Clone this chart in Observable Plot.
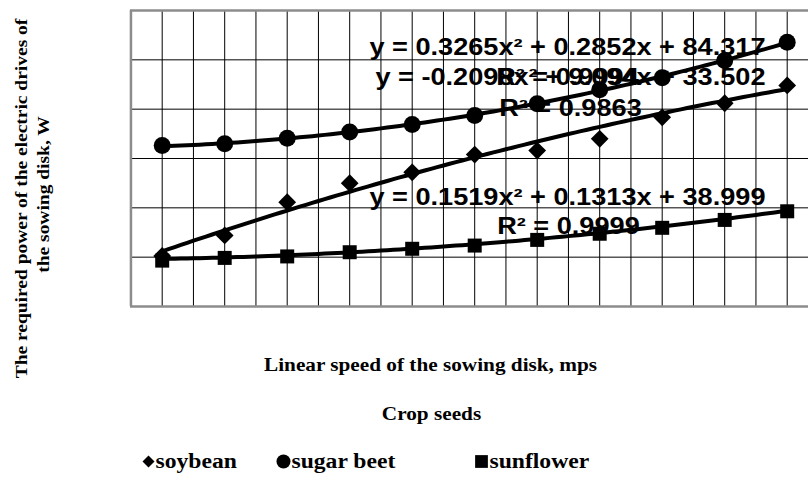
<!DOCTYPE html>
<html><head><meta charset="utf-8">
<script src="https://cdn.jsdelivr.net/npm/d3@7"></script>
<script src="https://cdn.jsdelivr.net/npm/@observablehq/plot@0.6"></script>
<style>
html,body{margin:0;padding:0;overflow:hidden;background:#fff;}
#chart svg{display:block;}
</style></head><body><div id="chart"></div>
<script>
// ---- data ----
const xValues = [1, 2, 3, 4, 5, 6, 7, 8, 9, 10, 11];
const soybean = [40.5, 48.8, 62.3, 70.0, 74.4, 81.6, 83.2, 88.0, 96.7, 102.4, 109.6];
const sugarBeet = [85.3, 86.0, 88.2, 90.7, 93.8, 97.4, 102.2, 107.9, 112.7, 119.7, 127.1];
const sunflower = [38.6, 39.7, 40.3, 42.0, 43.4, 44.7, 47.0, 49.5, 51.9, 55.1, 58.6];
const seriesNames = ["soybean", "sugar beet", "sunflower"];
// polynomial trendline coefficients as printed on the chart: y = a x² + b x + c
const soybeanFit = [-0.2098, 9.094, 33.502];
const sugarBeetFit = [0.3265, 0.2852, 84.317];
const sunflowerFit = [0.1519, 0.1313, 38.999];
const soybeanLabel = ["y = -0.2098x² + 9.094x + 33.502", "R² = 0.9863"];
const sugarBeetLabel = ["y = 0.3265x² + 0.2852x + 84.317", "R² = 0.9994"];
const sunflowerLabel = ["y = 0.1519x² + 0.1313x + 38.999", "R² = 0.9999"];
const yGridValues = [20, 40, 60, 80, 100, 120, 140];
const xGridValues = [0.5, 1, 1.5, 2, 2.5, 3, 3.5, 4, 4.5, 5, 5.5, 6, 6.5, 7, 7.5, 8, 8.5, 9, 9.5, 10, 10.5, 11, 11.5];
const yTitle = ["The required power of the electric drives of", "the sowing disk, W"];
const xTitle = "Linear speed of the sowing disk, mps";
const legendTitle = "Crop seeds";

// ---- tables ----
const pts = (ys) => xValues.map((x, i) => ({x, y: ys[i]}));
const trend = (f) => d3.range(1, 11.0001, 0.1).map(x => ({x, y: f[0]*x*x + f[1]*x + f[2]}));

const serif = "'Liberation Serif', 'Times New Roman', serif";
const sans = "'Liberation Sans', Arial, sans-serif";

const eqStyle = {text: "t", x: "x", y: "y", textAnchor: "middle", lineAnchor: "bottom",
  fontSize: 23, fontWeight: "bold", fontFamily: sans, fill: "#000"};

const labels = [
  {t: sugarBeetLabel[0], x: 7.484, y: 121.76},
  {t: sugarBeetLabel[1], x: 7.484, y: 109.6},
  {t: soybeanLabel[0], x: 7.532, y: 109.6},
  {t: soybeanLabel[1], x: 7.532, y: 97.43},
  {t: sunflowerLabel[0], x: 7.484, y: 60.95},
  {t: sunflowerLabel[1], x: 7.5, y: 49.47}
];

const legendSymbols = ["diamond2", "circle", "square"];
const legendR = [5.4, 7.0, 7.2];
const legendSymX = [148, 283, 481];
const legendTextX = [155, 291, 489];

const legendMarks = seriesNames.flatMap((name, i) => [
  Plot.dot([name], {frameAnchor: "bottom-left", dx: legendSymX[i] - 130, dy: 155,
    symbol: legendSymbols[i], r: legendR[i], fill: "#000", stroke: "none"}),
  Plot.text([name], {text: d => d, frameAnchor: "bottom-left", dx: legendTextX[i] - 130, dy: 161,
    textAnchor: "start", lineAnchor: "bottom", fontSize: 20, fontWeight: "bold", fontFamily: serif, fill: "#000"})
]);

const chart = Plot.plot({
  width: 808,
  height: 477,
  marginLeft: 130,
  marginRight: 0,
  marginTop: 10,
  marginBottom: 171,
  style: {background: "#fff"},
  x: {domain: [0.5, 11.5], range: [130.45, 817.95], axis: null},
  y: {domain: [20, 140], range: [306, 10], axis: null},
  marks: [
    Plot.ruleX(xGridValues.slice(1), {stroke: "#000", strokeWidth: 1}),
    Plot.ruleY(yGridValues.slice(1, -1), {stroke: "#000", strokeWidth: 1}),
    Plot.ruleX([xGridValues[0]], {stroke: "#8c8c8c", strokeWidth: 2.5}),
    Plot.ruleY([yGridValues[0], yGridValues[yGridValues.length - 1]], {stroke: "#8c8c8c", strokeWidth: 2.5}),
    Plot.line(trend(sugarBeetFit), {x: "x", y: "y", stroke: "#000", strokeWidth: 4, curve: "linear"}),
    Plot.line(trend(soybeanFit), {x: "x", y: "y", stroke: "#000", strokeWidth: 4, curve: "linear"}),
    Plot.line(trend(sunflowerFit), {x: "x", y: "y", stroke: "#000", strokeWidth: 4, curve: "linear"}),
    Plot.dot(pts(soybean), {x: "x", y: "y", symbol: "diamond2", r: 8, fill: "#000", stroke: "none"}),
    Plot.dot(pts(sugarBeet), {x: "x", y: "y", symbol: "circle", r: 8.5, fill: "#000", stroke: "none"}),
    Plot.dot(pts(sunflower), {x: "x", y: "y", symbol: "square", r: 7.9, fill: "#000", stroke: "none"}),
    Plot.text(labels, eqStyle),
    Plot.text([yTitle[0]], {text: d => d, frameAnchor: "left", dx: -104, dy: 40, rotate: -90,
      textAnchor: "middle", lineAnchor: "bottom", fontSize: 16.5, fontWeight: "bold", fontFamily: serif, fill: "#000"}),
    Plot.text([yTitle[1]], {text: d => d, frameAnchor: "left", dx: -82, dy: 36, rotate: -90,
      textAnchor: "middle", lineAnchor: "bottom", fontSize: 16.5, fontWeight: "bold", fontFamily: serif, fill: "#000"}),
    Plot.text([xTitle], {text: d => d, frameAnchor: "bottom-left", dx: 300, dy: 64,
      textAnchor: "middle", lineAnchor: "bottom", fontSize: 18, fontWeight: "bold", fontFamily: serif, fill: "#000"}),
    Plot.text([legendTitle], {text: d => d, frameAnchor: "bottom-left", dx: 301, dy: 113,
      textAnchor: "middle", lineAnchor: "bottom", fontSize: 18, fontWeight: "bold", fontFamily: serif, fill: "#000"}),
    ...legendMarks
  ]
});

document.getElementById("chart").appendChild(chart);
// the reference renders its lettering about 16-18% wider than the standard metrics
chart.querySelectorAll("text").forEach(t => {
  const len = t.getComputedTextLength();
  if (len > 0) {
    const k = t.getAttribute("font-family") === null ? 1.18 : 1.18;
    t.setAttribute("textLength", (len * k).toFixed(1));
    t.setAttribute("lengthAdjust", "spacingAndGlyphs");
  }
});
</script>
</body></html>
